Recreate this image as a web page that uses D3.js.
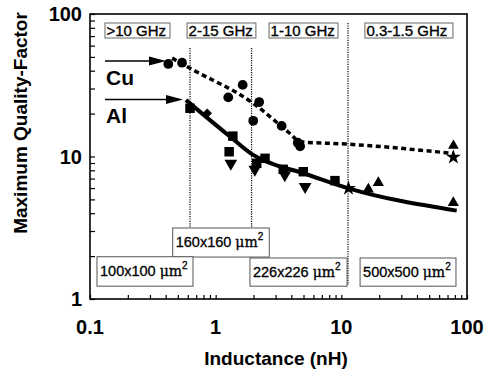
<!DOCTYPE html>
<html><head><meta charset="utf-8">
<script src="https://cdn.jsdelivr.net/npm/d3@7"></script>
<style>
body{margin:0;background:#fff;}
svg{display:block;font-family:"Liberation Sans",Arial,Helvetica,sans-serif;}
</style></head>
<body>
<svg id="chart" width="486" height="378"></svg>
<script>
// ---- data ----
const xTickLabels = [0.1, 1, 10, 100];
const yTickLabels = [1, 10, 100];
const cuCircles = [[0.42,44.6],[0.54,45.5],[1.26,26.0],[1.64,31.8],[1.99,17.8],[2.22,24.1],[3.35,16.4],[4.5,12.5],[4.7,11.8]];
const cuTriangles = [[78,11.9]];
const cuStars = [[78,9.9]];
const cuFit = [[0.45,49],[0.625,41.6],[1.99,23.6],[3.9,14.5],[4.69,12.7],[11.4,12.2],[78,10.5]];
const alSquares = [[0.625,21.8],[1.37,13.9],[1.28,10.8],[2.47,9.71],[2.12,8.96],[3.45,8.13],[4.98,7.82],[8.9,6.77]];
const alDiamonds = [[0.857,20.1]];
const alTriDown = [[1.32,8.96],[2.05,8.13],[3.55,7.42],[5.15,6.14]];
const alTriUp = [[16.4,5.89],[19.7,6.55],[77.8,4.74]];
const alStars = [[11.4,5.98]];
const alFit = [[0.58,24.9],[1.30,13.8],[1.94,10.4],[2.55,9.2],[4.98,7.63],[11.4,5.98],[82.8,4.17]];
const freqLabels = [">10 GHz","2-15 GHz","1-10 GHz","0.3-1.5 GHz"];
const freqBoxL = [[0.1316,0.433],[0.592,2.09],[2.66,9.41],[15.4,77.3]]; // box extents in nH
const dividerL = [0.625, 1.93, 11.3];
const sizeLabels = ["160x160","100x100","226x226","500x500"];
const sizeBoxL = [[0.455,2.67],[0.1137,0.66],[1.875,11.1],[14.1,81.7]];
const sizeBoxQ = [[3.15,1.97],[1.98,1.23],[1.94,1.23],[1.94,1.23]];

// ---- scales ----
const svg = d3.select("#chart");
const x = d3.scaleLog().domain([0.1,100]).range([90,467]);
const y = d3.scaleLog().domain([1,100]).range([299,14]);

// frame
svg.append("rect").attr("x",90).attr("y",14).attr("width",377).attr("height",285)
  .attr("fill","none").attr("stroke","#000").attr("stroke-width",1.6);

// ticks (inward)
const xAxis = d3.axisBottom(x).tickValues(d3.range(-1,2).flatMap(e=>d3.range(1,10).map(m=>m*Math.pow(10,e))).concat([100]))
  .tickSizeInner(-4).tickSizeOuter(0).tickFormat("");
svg.append("g").attr("transform","translate(0,299)").call(xAxis)
  .call(g=>g.select(".domain").remove())
  .call(g=>g.selectAll("line").attr("stroke-width",1.2));
const yAxis = d3.axisLeft(y).tickValues(d3.range(0,2).flatMap(e=>d3.range(1,10).map(m=>m*Math.pow(10,e))).concat([100]))
  .tickSizeInner(-5).tickSizeOuter(0).tickFormat("");
svg.append("g").attr("transform","translate(90,0)").call(yAxis)
  .call(g=>g.select(".domain").remove())
  .call(g=>g.selectAll("line").attr("stroke-width",1.2));

// tick labels
svg.append("g").selectAll("text").data(xTickLabels).join("text")
  .attr("x",d=>x(d)).attr("y",334).attr("text-anchor","middle")
  .attr("font-size",20).attr("font-weight","bold").text(d=>d);
svg.append("g").selectAll("text").data(yTickLabels).join("text")
  .attr("x",82).attr("y",d=>y(d)+7).attr("text-anchor","end")
  .attr("font-size",20).attr("font-weight","bold").text(d=>d);

// axis titles
svg.append("text").attr("x",276).attr("y",365).attr("text-anchor","middle")
  .attr("font-size",19).attr("font-weight","bold").text("Inductance (nH)");
svg.append("text").attr("transform","translate(27,123) rotate(-90)").attr("text-anchor","middle")
  .attr("font-size",19).attr("font-weight","bold").text("Maximum Quality-Factor");

// divider dotted lines
const divTop = [48,48,23];
const divBot = [228,228,285];
svg.append("g").selectAll("line").data(dividerL).join("line")
  .attr("x1",d=>x(d)).attr("x2",d=>x(d))
  .attr("y1",(d,i)=>divTop[i]).attr("y2",(d,i)=>divBot[i])
  .attr("stroke","#000").attr("stroke-width",1.2).attr("stroke-dasharray","1.2,1.2");

// frequency boxes
const fg = svg.append("g");
freqLabels.forEach((t,i)=>{
  const x0 = x(freqBoxL[i][0]), x1 = x(freqBoxL[i][1]);
  fg.append("rect").attr("x",x0).attr("y",23).attr("width",x1-x0).attr("height",15)
    .attr("fill","#fff").attr("stroke","#666").attr("stroke-width",1);
  fg.append("text").attr("x",x0+1.5).attr("y",36).attr("font-size",15)
    .attr("stroke","#000").attr("stroke-width",0.35).text(t);
});

// size boxes
const sg = svg.append("g");
sizeLabels.forEach((t,i)=>{
  const x0 = x(sizeBoxL[i][0]), x1 = x(sizeBoxL[i][1]);
  const y0 = y(sizeBoxQ[i][0]), y1 = y(sizeBoxQ[i][1]);
  sg.append("rect").attr("x",x0).attr("y",y0).attr("width",x1-x0).attr("height",y1-y0)
    .attr("fill","#fff").attr("stroke","#555").attr("stroke-width",1);
  const tx = sg.append("text").attr("x",x0+3).attr("y",y0+19.5).attr("font-size",14.5)
    .attr("stroke","#000").attr("stroke-width",0.3);
  tx.append("tspan").text(t+" ");
  tx.append("tspan").attr("font-family","'DejaVu Serif',serif").attr("font-size",14).text("\u03bcm");
  tx.append("tspan").attr("dy",-7).attr("font-size",10).text("2");
});

// fit lines
const line = d3.line().x(d=>x(d[0])).y(d=>y(d[1])).curve(d3.curveMonotoneX);
svg.append("path").datum(cuFit).attr("d",line).attr("fill","none")
  .attr("stroke","#000").attr("stroke-width",3.5).attr("stroke-dasharray","5,3.5");
svg.append("path").datum(alFit).attr("d",line).attr("fill","none")
  .attr("stroke","#000").attr("stroke-width",4);

// markers
function marks(data, type, size, rot){
  svg.append("g").selectAll("path").data(data).join("path")
    .attr("d", d3.symbol().type(type).size(size))
    .attr("transform", d=>`translate(${x(d[0])},${y(d[1])}) rotate(${rot||0})`)
    .attr("fill","#000");
}
marks(cuCircles, d3.symbolCircle, 75);
marks(cuTriangles, d3.symbolTriangle, 50);
marks(cuStars, d3.symbolStar, 70);
marks(alSquares, d3.symbolSquare, 90);
marks(alDiamonds, d3.symbolSquare, 45, 45);
marks(alTriDown, d3.symbolTriangle, 70, 180);
marks(alTriUp, d3.symbolTriangle, 55);
marks(alStars, d3.symbolStar, 70);

// Cu / Al labels with arrows
const ag = svg.append("g");
[[61,166,"Cu",85],[99.5,183,"Al",123]].forEach(([yy,tip,lab,by])=>{
  ag.append("line").attr("x1",105).attr("x2",tip-14).attr("y1",yy).attr("y2",yy)
    .attr("stroke","#000").attr("stroke-width",1.5);
  ag.append("path").attr("d",`M${tip-17},${yy-4.5}L${tip},${yy}L${tip-17},${yy+4.5}Z`).attr("fill","#000");
  ag.append("text").attr("x",106).attr("y",by).attr("font-size",21).attr("font-weight","bold").text(lab);
});
</script>
</body></html>
